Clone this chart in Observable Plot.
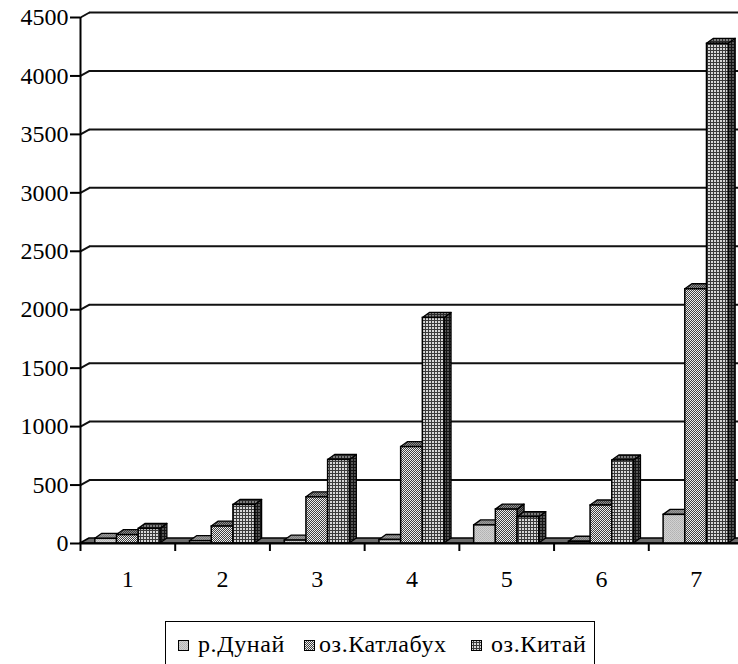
<!DOCTYPE html>
<html>
<head>
<meta charset="utf-8">
<script src="https://cdn.jsdelivr.net/npm/d3@7"></script>
<script src="https://cdn.jsdelivr.net/npm/@observablehq/plot@0.6"></script>
<style>
  html, body { margin: 0; padding: 0; background: #fff; }
  #wrap { position: relative; width: 738px; height: 664px; overflow: hidden; background: #fff; }
  #legend {
    position: absolute; left: 165px; top: 621px; width: 430px; height: 46px;
    border: 1.5px solid #000; box-sizing: border-box;
    font-family: "Liberation Serif", "DejaVu Serif", Tinos, Times, serif; font-size: 24px; letter-spacing: 0.6px; color: #000;
  }
  #legend .item { position: absolute; top: 0; height: 100%; }
  #legend .sw { position: absolute; top: 18px; width: 11px; height: 11px; }
  #legend .lbl { position: absolute; top: 9px; white-space: nowrap; line-height: 26px; }
</style>
</head>
<body>
<!-- hatch fills shared by the bars and the legend swatches -->
<svg width="0" height="0" style="position:absolute">
  <defs>
    <pattern id="dunai-front" width="2" height="2" patternUnits="userSpaceOnUse">
      <rect width="2" height="2" fill="#d2d2d2"/><rect width="1" height="1" fill="#b2b2b2"/><rect x="1" y="1" width="1" height="1" fill="#b8b8b8"/>
    </pattern>
    <pattern id="dunai-top" width="2" height="2" patternUnits="userSpaceOnUse">
      <rect width="2" height="2" fill="#9a9a9a"/><rect width="1" height="1" fill="#7a7a7a"/><rect x="1" y="1" width="1" height="1" fill="#7a7a7a"/>
    </pattern>
    <pattern id="dunai-side" width="2" height="2" patternUnits="userSpaceOnUse">
      <rect width="2" height="2" fill="#606060"/><rect width="1" height="1" fill="#444"/>
    </pattern>
    <pattern id="kat-front" width="2" height="2" patternUnits="userSpaceOnUse">
      <rect width="2" height="2" fill="#eeeeee"/><rect x="1" width="1" height="1" fill="#404040"/><rect y="1" width="1" height="1" fill="#404040"/>
    </pattern>
    <pattern id="kat-top" width="2" height="2" patternUnits="userSpaceOnUse">
      <rect width="2" height="2" fill="#909090"/><rect x="1" width="1" height="1" fill="#3a3a3a"/><rect y="1" width="1" height="1" fill="#3a3a3a"/>
    </pattern>
    <pattern id="kat-side" width="2" height="2" patternUnits="userSpaceOnUse">
      <rect width="2" height="2" fill="#666"/><rect x="1" width="1" height="1" fill="#222"/><rect y="1" width="1" height="1" fill="#222"/>
    </pattern>
    <pattern id="kitai-front" width="3" height="3" patternUnits="userSpaceOnUse">
      <rect width="3" height="3" fill="#3a3a3a"/><rect width="2" height="2" fill="#d6d6d6"/>
    </pattern>
    <pattern id="kitai-top" width="3" height="3" patternUnits="userSpaceOnUse">
      <rect width="3" height="3" fill="#2a2a2a"/><rect width="2" height="2" fill="#7c7c7c"/>
    </pattern>
    <pattern id="kitai-side" width="3" height="3" patternUnits="userSpaceOnUse">
      <rect width="3" height="3" fill="#141414"/><rect width="2" height="2" fill="#555"/>
    </pattern>
  </defs>
</svg>

<div id="wrap">
  <div id="chart"></div>
  <div id="legend"></div>
</div>

<script>
// Categories along the horizontal axis
const categories = [1, 2, 3, 4, 5, 6, 7];

// Series names and values (one value per category)
const seriesNames = ["р.Дунай", "оз.Катлабух", "оз.Китай"];
const dunai     = [40, 20, 25, 30, 155, 15, 245];
const katlabukh = [72, 145, 395, 825, 290, 325, 2175];
const kitai     = [125, 330, 715, 1930, 225, 710, 4275];

// Value-axis ticks
const yTicks = [0, 500, 1000, 1500, 2000, 2500, 3000, 3500, 4000, 4500];

// Fill ids for each series: front, top and side faces
const seriesFills = [
  {front: "url(#dunai-front)", top: "url(#dunai-top)", side: "url(#dunai-side)"},
  {front: "url(#kat-front)",   top: "url(#kat-top)",   side: "url(#kat-side)"},
  {front: "url(#kitai-front)", top: "url(#kitai-top)", side: "url(#kitai-side)"}
];

// Layout of the plotting area (pixels)
const X_RANGE = [80, 743];
const Y_RANGE = [543, 17];
const X_DOMAIN = [0.5, 7.5];
const Y_DOMAIN = [0, 4500];
const pxPerX = (X_RANGE[1] - X_RANGE[0]) / (X_DOMAIN[1] - X_DOMAIN[0]);
const pxPerY = (Y_RANGE[0] - Y_RANGE[1]) / (Y_DOMAIN[1] - Y_DOMAIN[0]);

// 3‑D depth expressed in data units
const wallDx = 9 / pxPerX, wallDy = 5 / pxPerY;
const barDx = 7 / pxPerX,  barDy = 5 / pxPerY;
const barW = 0.229;              // width of one column, in category units
const tickLenX = 8 / pxPerY;     // category tick length below the axis
const tickLenY = 10 / pxPerX;    // value tick length left of the axis

const seriesValues = [dunai, katlabukh, kitai];
const bars = [];
categories.forEach((c, i) => {
  seriesValues.forEach((vals, j) => {
    const x1 = c - 1.5 * barW + j * barW;
    bars.push({key: `${c}-${j}`, cat: c, s: j, value: vals[i], x1, x2: x1 + barW, ...seriesFills[j]});
  });
});

const tops = bars.flatMap(b => [
  {key: b.key, y: b.value, x1: b.x1, x2: b.x2, fill: b.top},
  {key: b.key, y: b.value + barDy, x1: b.x1 + barDx, x2: b.x2 + barDx, fill: b.top}
]);
const sides = bars.flatMap(b => [
  {key: b.key, x: b.x2, y1: 0, y2: b.value, fill: b.side},
  {key: b.key, x: b.x2 + barDx, y1: barDy, y2: b.value + barDy, fill: b.side}
]);
const floor = [
  {y: 0, x1: X_DOMAIN[0], x2: X_DOMAIN[1]},
  {y: wallDy, x1: X_DOMAIN[0] + wallDx, x2: X_DOMAIN[1] + wallDx}
];
const boundaries = d3.range(X_DOMAIN[0], X_DOMAIN[1] + 0.01, 1);
const gridValues = yTicks.filter(v => v > 0);

const font = "'Liberation Serif', 'DejaVu Serif', Tinos, Times, serif";

const chart = Plot.plot({
  width: 738,
  height: 615,
  marginLeft: 80, marginRight: 0, marginTop: 17, marginBottom: 72,
  x: {type: "linear", domain: X_DOMAIN, range: X_RANGE, axis: null},
  y: {type: "linear", domain: Y_DOMAIN, range: Y_RANGE, axis: null},
  color: {type: "identity"},
  style: {fontFamily: font, fontSize: "24px", color: "#000", background: "#fff", overflow: "hidden"},
  marks: [
    // back-wall gridlines and their joins to the value axis
    Plot.ruleY(gridValues, {y: d => d + wallDy, x1: X_DOMAIN[0] + wallDx, x2: X_DOMAIN[1] + wallDx, stroke: "#111", strokeWidth: 2}),
    Plot.link(gridValues, {x1: X_DOMAIN[0], y1: d => d, x2: X_DOMAIN[0] + wallDx, y2: d => d + wallDy, stroke: "#111", strokeWidth: 2}),
    // floor
    Plot.areaX(floor, {y: "y", x1: "x1", x2: "x2", fill: "#6c6c6c", stroke: "#000", strokeWidth: 1.5}),
    // columns: side faces, top faces, then front faces
    Plot.areaY(sides, {x: "x", y1: "y1", y2: "y2", z: "key", fill: "fill", stroke: "#000", strokeWidth: 1.3}),
    Plot.areaX(tops, {y: "y", x1: "x1", x2: "x2", z: "key", fill: "fill", stroke: "#000", strokeWidth: 1.3}),
    Plot.rect(bars, {x1: "x1", x2: "x2", y1: 0, y2: "value", fill: "front", stroke: "#000", strokeWidth: 1.5}),
    // axes
    Plot.ruleY([0], {x1: X_DOMAIN[0], x2: X_DOMAIN[1], stroke: "#000", strokeWidth: 2}),
    Plot.ruleX([X_DOMAIN[0]], {y1: Y_DOMAIN[0], y2: Y_DOMAIN[1], stroke: "#000", strokeWidth: 2}),
    Plot.ruleX(boundaries, {y1: 0, y2: -tickLenX, stroke: "#000", strokeWidth: 2}),
    Plot.ruleY(yTicks, {x1: X_DOMAIN[0] - tickLenY, x2: X_DOMAIN[0], stroke: "#000", strokeWidth: 2}),
    Plot.text(yTicks, {x: X_DOMAIN[0], y: d => d, text: d => String(d), dx: -12, textAnchor: "end", fontSize: 24, fontFamily: font, fill: "#000"}),
    Plot.text(categories, {x: d => d, y: 0, text: d => String(d), dy: 36, fontSize: 24, fontFamily: font, fill: "#000"})
  ]
});
document.getElementById("chart").appendChild(chart);

// Legend below the plot
const legendPos = [{sw: 12, lbl: 32}, {sw: 138, lbl: 153}, {sw: 305, lbl: 325}];
const legend = document.getElementById("legend");
seriesNames.forEach((name, j) => {
  const item = document.createElement("div");
  item.className = "item";
  item.innerHTML =
    `<svg class="sw" style="left:${legendPos[j].sw}px" width="11" height="11">` +
    `<rect x="0.5" y="0.5" width="10" height="10" fill="${seriesFills[j].front}" stroke="#000" stroke-width="1"/></svg>` +
    `<span class="lbl" style="left:${legendPos[j].lbl}px">${name}</span>`;
  legend.appendChild(item);
});
</script>
</body>
</html>
